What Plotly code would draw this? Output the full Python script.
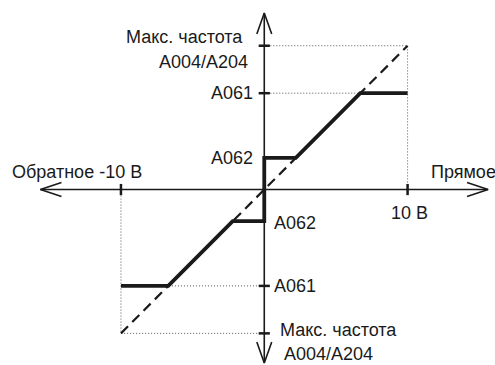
import plotly.graph_objects as go

# характеристика: уровни в вольтах (шкала входа ±10 В)
v_max = 10          # ±10 В
f_max = 10          # Макс. частота A004/A204
a061 = 6.7          # верхний предел A061
a062 = 2.2          # нижний предел A062

out_x = [-v_max, -a061, -a062, 0, 0, a062, a061, v_max]
out_y = [-a061, -a061, -a062, -a062, a062, a062, a061, a061]
ref_x = [-v_max, v_max]
ref_y = [-f_max, f_max]

y_ticks = [f_max, a061, -a061, -f_max]
x_ticks = [-v_max, v_max]

INK = "#1a1a1a"
FONT = dict(family="Liberation Sans, Arial, sans-serif", size=18, color=INK)

# axis extents and arrowheads (layout only)
X_END, Y_TOP, Y_BOT = 15.62, 12.27, -12.06
AX, AY = 1.47, 0.49

fig = go.Figure()

def line(x, y, **kw):
    fig.add_trace(go.Scatter(x=x, y=y, mode="lines", hoverinfo="skip",
                             showlegend=False, **kw))

dotted = dict(color="#555", width=1, dash="1px,2px")
line([0, v_max, v_max], [f_max, f_max, 0], line=dotted)
line([0, v_max], [a061, a061], line=dotted)
line([-v_max, -v_max, 0], [0, -f_max, -f_max], line=dotted)
line([-v_max, 0], [-a061, -a061], line=dotted)

axis = dict(color=INK, width=1.6)
line([-X_END, X_END], [0, 0], line=axis)
line([0, 0], [Y_BOT, Y_TOP], line=axis)
line([-X_END + AX, -X_END, -X_END + AX], [AY, 0, -AY], line=axis)
line([X_END - AX, X_END, X_END - AX], [AY, 0, -AY], line=axis)
line([-0.52, 0, 0.52], [Y_TOP - 1.46, Y_TOP, Y_TOP - 1.46], line=axis)
line([-0.52, 0, 0.52], [Y_BOT + 1.46, Y_BOT, Y_BOT + 1.46], line=axis)

line(ref_x, ref_y, line=dict(color=INK, width=2.2, dash="10px,6px"))
line(out_x, out_y, line=dict(color=INK, width=3.8))

fig.add_trace(go.Scatter(x=[0] * len(y_ticks), y=y_ticks, mode="markers",
                         hoverinfo="skip", showlegend=False,
                         marker=dict(symbol="line-ew", size=8,
                                     line=dict(color=INK, width=2.5))))
fig.add_trace(go.Scatter(x=x_ticks, y=[0] * len(x_ticks), mode="markers",
                         hoverinfo="skip", showlegend=False,
                         marker=dict(symbol="line-ns", size=8,
                                     line=dict(color=INK, width=2.5))))

labels = [
    ("Макс. частота", 0, f_max, "right", -19, 9),
    ("A004/A204", 0, f_max, "right", -14, -16),
    ("A061", 0, a061, "right", -9, 0),
    ("A062", 0, a062, "right", -9, 0),
    ("Обратное -10 В", -v_max, 0, "right", 23, 18),
    ("Прямое", v_max, 0, "left", 21, 18),
    ("10 В", v_max, 0, "center", 2, -23),
    ("A062", 0, -a062, "left", 8, -2),
    ("A061", 0, -a061, "left", 8, 0),
    ("Макс. частота", 0, -f_max, "left", 14, 3),
    ("A004/A204", 0, -f_max, "left", 18, -21),
]
for text, x, y, xa, dx, dy in labels:
    fig.add_annotation(x=x, y=y, text=text, showarrow=False, xanchor=xa,
                       yanchor="middle", xshift=dx, yshift=dy, font=FONT)

fig.update_layout(
    width=495, height=365,
    margin=dict(l=0, r=0, t=0, b=0),
    paper_bgcolor="white", plot_bgcolor="white",
    xaxis=dict(range=[-18.44, 16.10], visible=False),
    yaxis=dict(range=[-12.20, 13.18], visible=False),
)

fig.write_html("out.html", config={"displayModeBar": False},
               post_script="document.body.style.margin='0';")
